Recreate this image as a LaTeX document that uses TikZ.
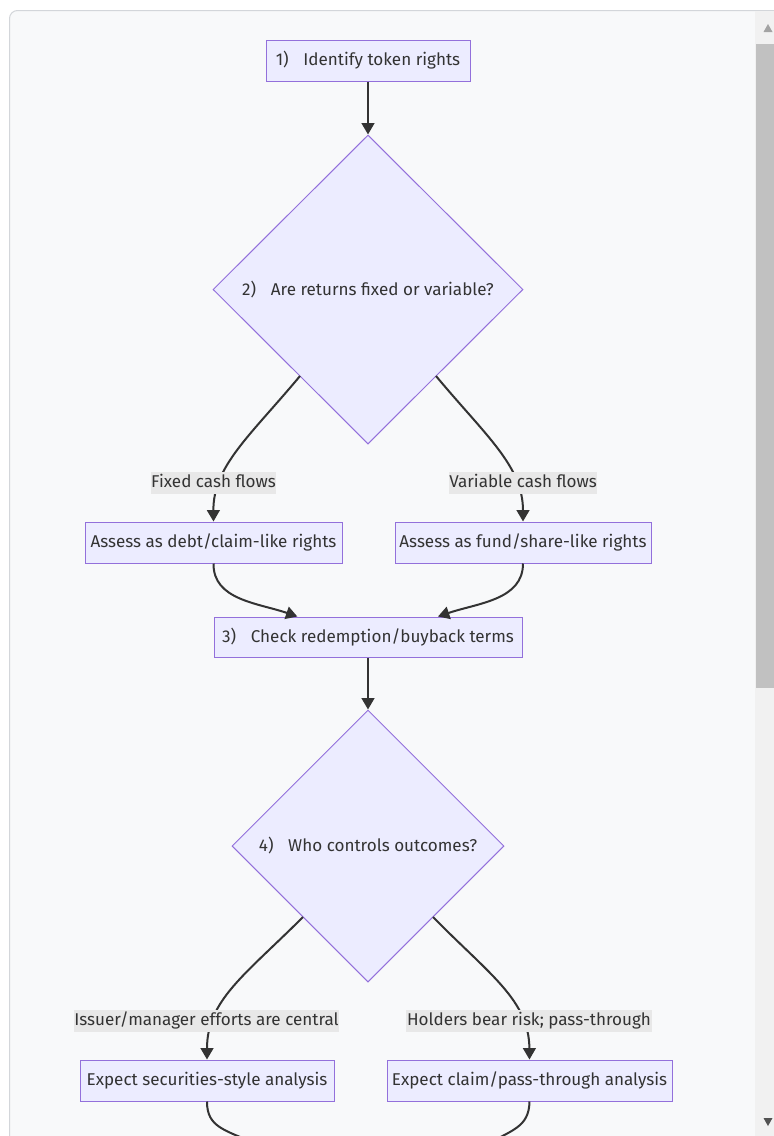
\documentclass[tikz,border=0pt]{standalone}
\usepackage{fontspec}
\setmainfont{Fira Sans}
\usetikzlibrary{shapes.geometric,arrows.meta}
\definecolor{nodefill}{HTML}{ECECFF}
\definecolor{nodeline}{HTML}{9370DB}
\definecolor{edgecol}{HTML}{333333}
\definecolor{txtcol}{HTML}{333333}
\definecolor{lblfill}{HTML}{E8E8E8}
\definecolor{bgcol}{HTML}{F8F9FA}
\definecolor{framecol}{HTML}{D3D6DA}
\definecolor{trackcol}{HTML}{F1F1F1}
\definecolor{thumbcol}{HTML}{C1C1C1}
\newcommand{\gp}{\hspace{11pt}}
\tikzset{
  box/.style={draw=nodeline, fill=nodefill, line width=0.75pt, rectangle, inner sep=0pt,
    text=txtcol, font=\fontsize{12.8}{15}\selectfont, minimum height=30.75pt},
  decision/.style={draw=nodeline, fill=nodefill, line width=0.75pt, diamond, inner sep=0pt,
    text=txtcol, font=\fontsize{12.8}{15}\selectfont},
  edge/.style={draw=edgecol, line width=1.5pt, -{Triangle[length=8.5pt,width=9.5pt]}},
  plainedge/.style={draw=edgecol, line width=1.5pt},
  lbl/.style={fill=lblfill, text=txtcol, font=\fontsize{12.8}{15}\selectfont, inner xsep=0.5pt,
    inner ysep=1.5pt, text height=10pt, text depth=2.8pt},
}
\begin{document}
\begin{tikzpicture}[x=0.75pt,y=-0.75pt]
\useasboundingbox (0,0) rectangle (774,1136);
\clip (0,0) rectangle (774,1136);
% page background and frame
\fill[white] (0,0) rectangle (774,1136);
\fill[bgcol, rounded corners=6pt] (9.5,10.5) rectangle (800,1200);
\draw[framecol, line width=0.75pt, rounded corners=6pt] (9.5,1200) -- (9.5,10.5) -- (800,10.5);
% scrollbar
\fill[trackcol] (755,11) rectangle (774,1136);
\fill[thumbcol] (756,44) rectangle (774,688);
\fill[black!36] (763.5,32) -- (772.5,32) -- (768,24) -- cycle;
\fill[black!68] (763.5,1118) -- (772.5,1118) -- (768,1126) -- cycle;

% nodes
\node[box, minimum width=153pt] (n1) at (368,60.5) {1)\gp Identify token rights};
\node[decision, minimum width=232.5pt, minimum height=231.75pt] (n2) at (368,289.5) {2)\gp Are returns fixed or variable?};
\node[box, minimum width=192.75pt] (na) at (213.5,542.5) {Assess as debt/claim-like rights};
\node[box, minimum width=192pt] (nb) at (523,542.5) {Assess as fund/share-like rights};
\node[box, minimum width=231pt, minimum height=30pt] (n3) at (368,637) {3)\gp Check redemption/buyback terms};
\node[decision, minimum width=204pt, minimum height=204pt] (n4) at (368,846) {4)\gp Who controls outcomes?};
\node[box, minimum width=190.5pt] (nc) at (207,1080.5) {Expect securities-style analysis};
\node[box, minimum width=213.75pt] (nd) at (529.5,1080.5) {Expect claim/pass-through analysis};

\coordinate (c2l) at (300,376);
\coordinate (c2r) at (436,376);
\coordinate (c4l) at (303,917);
\coordinate (c4r) at (433,917);
\coordinate (outc) at (262,1146);
\coordinate (outd) at (484,1146);

% edges
\draw[edge] (n1.south) -- (n2.north);
\draw[edge] (c2l) .. controls (250,436) and (213,466) .. (na.north);
\draw[edge] (c2r) .. controls (486,436) and (523,466) .. (nb.north);
\draw[edge] (na.south) .. controls (213,600) and (258,603) .. ([xshift=-53pt]n3.north);
\draw[edge] (nb.south) .. controls (523,600) and (478,603) .. ([xshift=52.5pt]n3.north);
\draw[edge] (n3.south) -- (n4.north);
\draw[edge] (c4l) .. controls (245,975) and (207,1000) .. (nc.north);
\draw[edge] (c4r) .. controls (490,975) and (529,1000) .. (nd.north);
\draw[plainedge] (nc.south) .. controls (207,1128) and (225,1130) .. (outc);
\draw[plainedge] (nd.south) .. controls (529,1128) and (511,1130) .. (outd);

% edge labels
\node[lbl] (l1) at (213.5,483) {Fixed cash flows};
\node[lbl] (l2) at (523,483) {Variable cash flows};
\node[lbl] (l3) at (206.5,1021) {Issuer/manager efforts are central};
\node[lbl] (l4) at (529,1021) {Holders bear risk; pass-through};
\end{tikzpicture}
\end{document}
